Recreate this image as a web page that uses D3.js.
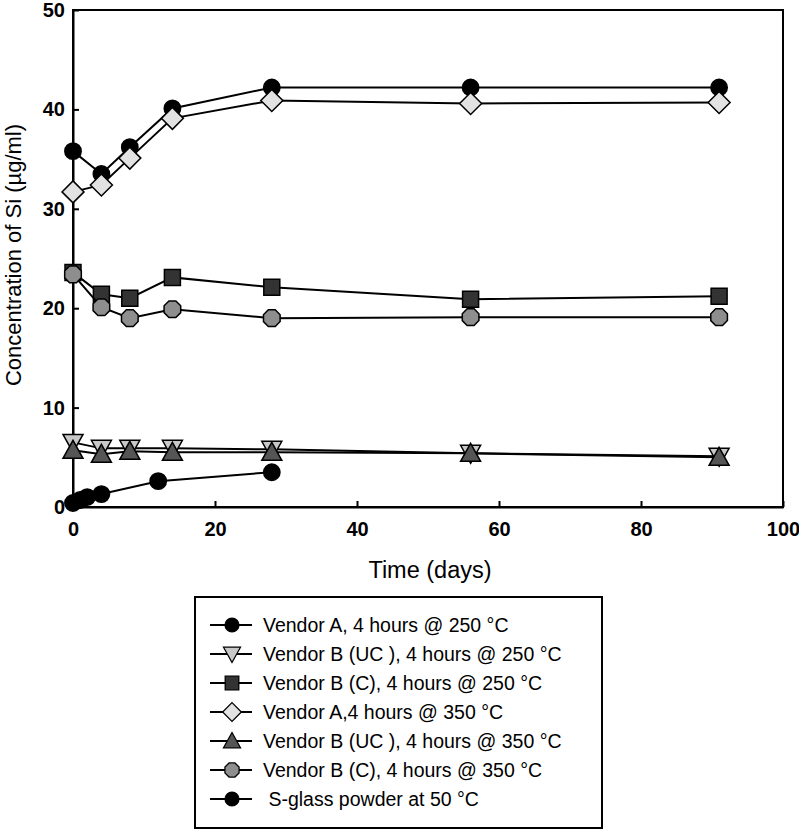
<!DOCTYPE html>
<html><head><meta charset="utf-8">
<script src="https://cdn.jsdelivr.net/npm/d3@7"></script>
<style>body{margin:0;background:#fff}</style>
</head><body>
<svg id="c" width="799" height="831"></svg>
<script>
const seriesNames = [
  "Vendor A, 4 hours @ 250 °C",
  "Vendor B (UC ), 4 hours @ 250 °C",
  "Vendor B (C), 4 hours @ 250 °C",
  "Vendor A,4 hours @ 350 °C",
  "Vendor B (UC ), 4 hours @ 350 °C",
  "Vendor B (C), 4 hours @ 350 °C",
  " S-glass powder at 50 °C"
];
const days = [0, 4, 8, 14, 28, 56, 91];
const vendorA250 = [35.8, 33.5, 36.2, 40.1, 42.2, 42.2, 42.2];
const vendorBUC250 = [6.5, 5.9, 5.9, 5.9, 5.8, 5.4, 5.1];
const vendorBC250 = [23.6, 21.4, 21.0, 23.1, 22.1, 20.9, 21.2];
const vendorA350 = [31.7, 32.4, 35.1, 39.1, 40.9, 40.6, 40.7];
const vendorBUC350 = [5.7, 5.3, 5.6, 5.5, 5.5, 5.4, 5.0];
const vendorBC350 = [23.4, 20.1, 19.0, 19.9, 19.0, 19.1, 19.1];
const glassDays = [0, 1, 2, 4, 12, 28];
const glassValues = [0.4, 0.7, 1.0, 1.3, 2.6, 3.5];
const xTicks = [0, 20, 40, 60, 80, 100];
const yTicks = [0, 10, 20, 30, 40, 50];

const styles = [
  {shape: "circle", fill: "#000"},
  {shape: "tridown", fill: "#c8c8c8"},
  {shape: "square", fill: "#333"},
  {shape: "diamond", fill: "#e2e2e2"},
  {shape: "triup", fill: "#555"},
  {shape: "octagon", fill: "#8e8e8e"},
  {shape: "circle", fill: "#000"}
];
const seriesData = [
  days.map((d,i)=>[d, vendorA250[i]]),
  days.map((d,i)=>[d, vendorBUC250[i]]),
  days.map((d,i)=>[d, vendorBC250[i]]),
  days.map((d,i)=>[d, vendorA350[i]]),
  days.map((d,i)=>[d, vendorBUC350[i]]),
  days.map((d,i)=>[d, vendorBC350[i]]),
  glassDays.map((d,i)=>[d, glassValues[i]])
];

const svg = d3.select("#c");
const L = 73, R = 783, T = 10, B = 507;
const x = d3.scaleLinear().domain([0,100]).range([L,R]);
const y = d3.scaleLinear().domain([0,50]).range([B,T]);

function shapePath(s){
  switch(s){
    case "circle": return d3.symbol(d3.symbolCircle, 210)();
    case "square": return "M-8,-8H8V8H-8Z";
    case "diamond": return "M0,-11L11,0L0,11L-11,0Z";
    case "triup": return "M0,-10L10,8H-10Z";
    case "tridown": return "M0,10L10,-8H-10Z";
    case "octagon": {
      const r = 9, pts=[];
      for(let k=0;k<8;k++){const a=Math.PI/8+k*Math.PI/4; pts.push([r*Math.cos(a), r*Math.sin(a)]);}
      return "M"+pts.map(p=>p.join(",")).join("L")+"Z";
    }
  }
}

// frame
svg.append("rect").attr("x",L).attr("y",T).attr("width",R-L).attr("height",B-T)
  .attr("fill","none").attr("stroke","#000").attr("stroke-width",2);

// axes
const xAxis = d3.axisBottom(x).tickValues(xTicks).tickSizeInner(-6).tickSizeOuter(0).tickPadding(12);
const gx = svg.append("g").attr("transform",`translate(0,${B})`).call(xAxis);
const yAxis = d3.axisLeft(y).tickValues(yTicks).tickSizeInner(-6).tickSizeOuter(0).tickPadding(12);
const gy = svg.append("g").attr("transform",`translate(${L},0)`).call(yAxis);
[gx, gy].forEach(g=>{
  g.select(".domain").attr("stroke","#000").attr("stroke-width",2);
  g.selectAll(".tick line").attr("stroke","#000").attr("stroke-width",2);
  g.selectAll(".tick text").attr("fill","#000")
    .style("font-family","'Liberation Sans Narrow', 'Arial Narrow', sans-serif")
    .style("font-weight","bold").style("font-size","20px");
});
gx.selectAll(".tick text").attr("dy","0.85em");
gy.selectAll(".tick text").attr("dx","4px");

// titles
svg.append("text").attr("x",(L+R)/2+2).attr("y",578).attr("text-anchor","middle")
  .style("font-family","'Liberation Sans', Arial, sans-serif").style("font-size","23.5px")
  .text("Time (days)");
svg.append("text").attr("transform",`translate(21,255) rotate(-90)`).attr("text-anchor","middle")
  .style("font-family","'Liberation Sans', Arial, sans-serif").style("font-size","22px")
  .text("Concentration of Si (µg/ml)");

// series
const line = d3.line().x(d=>x(d[0])).y(d=>y(d[1]));
seriesData.forEach((data,i)=>{
  const g = svg.append("g");
  g.append("path").attr("d",line(data)).attr("fill","none").attr("stroke","#000").attr("stroke-width",2);
  g.selectAll("path.m").data(data).join("path").attr("class","m")
    .attr("transform",d=>`translate(${x(d[0])},${y(d[1])})`)
    .attr("d",shapePath(styles[i].shape))
    .attr("fill",styles[i].fill).attr("stroke","#000").attr("stroke-width",1.5);
});

// legend
const lg = svg.append("g");
lg.append("rect").attr("x",195).attr("y",597).attr("width",407).attr("height",231)
  .attr("fill","#fff").attr("stroke","#000").attr("stroke-width",2);
const ly = d3.scalePoint().domain(d3.range(seriesNames.length)).range([625,799]);
seriesNames.forEach((name,i)=>{
  const yy = ly(i);
  lg.append("line").attr("x1",210).attr("x2",252).attr("y1",yy).attr("y2",yy).attr("stroke","#000").attr("stroke-width",2);
  lg.append("path").attr("transform",`translate(232,${yy}) scale(0.85)`).attr("d",shapePath(styles[i].shape))
    .attr("fill",styles[i].fill).attr("stroke","#000").attr("stroke-width",1.5);
  lg.append("text").attr("x",263).attr("y",yy).attr("dy","0.36em")
    .style("font-family","'Liberation Sans', Arial, sans-serif").style("font-size","19.5px")
    .attr("xml:space","preserve").text(name);
});
</script>
</body></html>
